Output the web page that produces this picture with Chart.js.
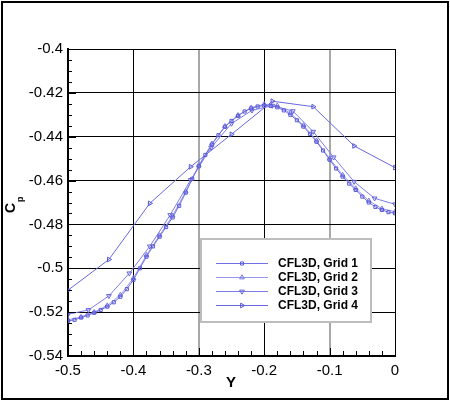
<!DOCTYPE html>
<html>
<head>
<meta charset="utf-8">
<script src="https://cdn.jsdelivr.net/npm/chart.js@4.4.1/dist/chart.umd.min.js"></script>
<style>
html,body{margin:0;padding:0;background:#fff;}
#wrap{position:relative;width:450px;height:401px;}
canvas{display:block;}
</style>
</head>
<body>
<div id="wrap"><canvas id="c" width="450" height="401"></canvas></div>
<script>
// ---- data ----
const seriesNames = ['CFL3D, Grid 1', 'CFL3D, Grid 2', 'CFL3D, Grid 3', 'CFL3D, Grid 4'];

const yGrid1 = [-0.50,-0.49,-0.48,-0.47,-0.46,-0.45,-0.44,-0.43,-0.42,-0.41,
  -0.40,-0.39,-0.38,-0.37,-0.36,-0.35,-0.34,-0.33,-0.32,-0.31,
  -0.30,-0.29,-0.28,-0.27,-0.26,-0.25,-0.24,-0.23,-0.22,-0.21,
  -0.20,-0.19,-0.18,-0.17,-0.16,-0.15,-0.14,-0.13,-0.12,-0.11,
  -0.10,-0.09,-0.08,-0.07,-0.06,-0.05,-0.04,-0.03,-0.02,-0.01,0.00];
const cpGrid1 = [-0.5240,-0.5235,-0.5225,-0.5215,-0.5203,-0.5190,-0.5175,-0.5155,-0.5130,-0.5095,
  -0.5053,-0.5000,-0.4947,-0.4900,-0.4856,-0.4812,-0.4768,-0.4715,-0.4655,-0.4592,
  -0.4535,-0.4483,-0.4436,-0.4393,-0.4355,-0.4328,-0.4305,-0.4285,-0.4271,-0.4262,
  -0.4258,-0.4260,-0.4266,-0.4280,-0.4300,-0.4325,-0.4354,-0.4387,-0.4423,-0.4463,
  -0.4505,-0.4545,-0.4582,-0.4614,-0.4643,-0.4673,-0.4700,-0.4720,-0.4734,-0.4744,-0.4749];

const yGrid2 = [-0.50,-0.48,-0.46,-0.44,-0.42,-0.40,-0.38,-0.36,-0.34,-0.32,
  -0.30,-0.28,-0.26,-0.24,-0.22,-0.20,-0.18,-0.16,-0.14,-0.12,
  -0.10,-0.08,-0.06,-0.04,-0.02,0.00];
const cpGrid2 = [-0.5235,-0.5222,-0.5200,-0.5170,-0.5122,-0.5045,-0.4940,-0.4850,-0.4760,-0.4650,
  -0.4530,-0.4432,-0.4352,-0.4302,-0.4268,-0.4252,-0.4258,-0.4292,-0.4348,-0.4418,
  -0.4500,-0.4575,-0.4636,-0.4692,-0.4728,-0.4742];

const yGrid3 = [-0.5,-0.46875,-0.4375,-0.40625,-0.375,-0.34375,-0.3125,-0.28125,-0.25,
  -0.21875,-0.1875,-0.15625,-0.125,-0.09375,-0.0625,-0.03125,0];
const cpGrid3 = [-0.5210,-0.5190,-0.5126,-0.5023,-0.4900,-0.4757,-0.4597,-0.4450,-0.4340,
  -0.4280,-0.4258,-0.4283,-0.4377,-0.4494,-0.4605,-0.4681,-0.4708];

const yGrid4 = [-0.5,-0.4375,-0.375,-0.3125,-0.25,-0.1875,-0.125,-0.0625,0];
const cpGrid4 = [-0.510,-0.496,-0.4704,-0.4537,-0.4389,-0.4238,-0.4263,-0.4442,-0.4541];

const xTickValues = [-0.5,-0.4,-0.3,-0.2,-0.1,0];
const yTickValues = [-0.54,-0.52,-0.5,-0.48,-0.46,-0.44,-0.42,-0.4];
const xAxisTitle = 'Y';
const yAxisTitle = 'C';
const yAxisSub = 'p';

// ---- styles ----
const FONT = "'Liberation Sans', Arial, Helvetica, sans-serif";
const lineColors = ['rgb(112,112,228)','rgb(150,150,238)','rgb(124,124,232)','rgb(104,104,222)'];
const markColors = ['rgb(90,90,215)','rgb(120,120,228)','rgb(100,100,220)','rgb(85,85,210)'];
const pStyles = ['rect','triangle','triangle','triangle'];
const pRot = [0,0,180,90];
const pRad = [2.2,2.7,2.7,2.7];

function pts(xs, ys){ return xs.map((x,i)=>({x:x, y:ys[i]})); }
const allX = [yGrid1,yGrid2,yGrid3,yGrid4];
const allY = [cpGrid1,cpGrid2,cpGrid3,cpGrid4];

const datasets = seriesNames.map((n,i)=>({
  label:n,
  data:pts(allX[i], allY[i]),
  showLine:true,
  borderColor:lineColors[i],
  borderWidth:1,
  pointStyle:pStyles[i],
  rotation:pRot[i],
  pointRadius:pRad[i],
  pointBorderWidth:1,
  pointBorderColor:markColors[i],
  pointBackgroundColor:'rgba(255,255,255,0)',
  tension:0
}));

const extras = {
  id:'extras',
  afterDraw(chart){
    const ctx = chart.ctx;
    const xs = chart.scales.x, ys = chart.scales.y;
    const a = chart.chartArea;
    ctx.save();
    // minor ticks
    ctx.strokeStyle = '#000'; ctx.lineWidth = 1;
    ctx.beginPath();
    for(let k=0;k<=28;k++){
      const v = -0.54 + k*0.005;
      const py = Math.round(ys.getPixelForValue(v))+0.5;
      ctx.moveTo(a.left, py); ctx.lineTo(a.left+4, py);
    }
    for(let k=0;k<=25;k++){
      const v = -0.5 + k*0.02;
      const px = Math.round(xs.getPixelForValue(v))+0.5;
      ctx.moveTo(px, a.bottom); ctx.lineTo(px, a.bottom-5);
    }
    for(const v of yTickValues){
      const py = Math.round(ys.getPixelForValue(v))+0.5;
      ctx.moveTo(a.left, py); ctx.lineTo(a.left+8, py);
    }
    for(const v of xTickValues){
      const px = Math.round(xs.getPixelForValue(v))+0.5;
      ctx.moveTo(px, a.bottom); ctx.lineTo(px, a.bottom-8);
    }
    ctx.stroke();

    // legend box
    const bx=200, by=238, bw=172, bh=85;
    ctx.fillStyle='#fff';
    ctx.fillRect(bx,by,bw,bh);
    ctx.strokeStyle='#bdbdbd'; ctx.lineWidth=2;
    ctx.strokeRect(bx+1,by+1,bw-2,bh-2);
    const rows=[263.5,277.5,291.5,305.5];
    ctx.font = "bold 12px "+FONT;
    ctx.textBaseline='middle'; ctx.textAlign='left';
    seriesNames.forEach((n,i)=>{
      const y=rows[i];
      ctx.strokeStyle=lineColors[i]; ctx.lineWidth=1;
      ctx.beginPath(); ctx.moveTo(216,y); ctx.lineTo(268,y); ctx.stroke();
      ctx.strokeStyle=markColors[i]; ctx.fillStyle='rgba(255,255,255,0)';
      Chart.helpers.drawPoint(ctx,{pointStyle:pStyles[i],rotation:pRot[i],radius:pRad[i],borderWidth:1},242,y);
      ctx.fillStyle='#000';
      ctx.fillText(n,278,y+0.5);
    });

    // axis titles
    ctx.fillStyle='#000';
    ctx.font = "bold 15px "+FONT;
    ctx.textAlign='center'; ctx.textBaseline='middle';
    ctx.fillText(xAxisTitle, 231, 383);
    ctx.save();
    ctx.translate(15, 213);
    ctx.rotate(-Math.PI/2);
    ctx.textAlign='left'; ctx.textBaseline='alphabetic';
    ctx.font = "bold 14px "+FONT;
    ctx.fillText(yAxisTitle, 0, 0);
    const cw = ctx.measureText(yAxisTitle).width;
    ctx.font = "bold 9px "+FONT;
    ctx.fillText(yAxisSub, cw+1, 8);
    ctx.restore();

    // outer frame
    ctx.strokeStyle='#000'; ctx.lineWidth=2;
    ctx.strokeRect(2,2,446,397);
    ctx.restore();
  }
};

function near(v, t){ return Math.abs(v-t) < 1e-6; }

new Chart(document.getElementById('c'), {
  type:'scatter',
  data:{datasets},
  options:{
    responsive:false,
    animation:false,
    devicePixelRatio:1,
    layout:{padding:{left:0,top:49,right:55,bottom:0}},
    plugins:{legend:{display:false},tooltip:{enabled:false},title:{display:false}},
    scales:{
      x:{
        type:'linear', min:-0.5, max:0,
        afterFit(s){ s.height = 45; },
        afterBuildTicks(s){ s.ticks = xTickValues.map(v=>({value:v})); },
        ticks:{
          color:'#000', padding:6, maxRotation:0, autoSkip:false,
          font:{family:FONT, size:15},
          callback:(v)=>String(Number(Number(v).toFixed(1)))
        },
        grid:{
          drawTicks:false,
          color:(c)=> (c.tick && (near(c.tick.value,-0.3)||near(c.tick.value,-0.1))) ? '#a8a8a8' : '#000',
          lineWidth:(c)=> (c.tick && (near(c.tick.value,-0.3)||near(c.tick.value,-0.1))) ? 2 : 1
        },
        border:{display:true,color:'#000',width:2}
      },
      y:{
        type:'linear', min:-0.54, max:-0.4,
        afterFit(s){ s.width = 68; },
        afterBuildTicks(s){ s.ticks = yTickValues.map(v=>({value:v})); },
        ticks:{
          color:'#000', padding:5, autoSkip:false,
          font:{family:FONT, size:15},
          callback:(v)=>String(Number(Number(v).toFixed(2)))
        },
        grid:{drawTicks:false, color:'#000', lineWidth:1},
        border:{display:true,color:'#000',width:2}
      }
    }
  },
  plugins:[extras]
});
</script>
</body>
</html>
